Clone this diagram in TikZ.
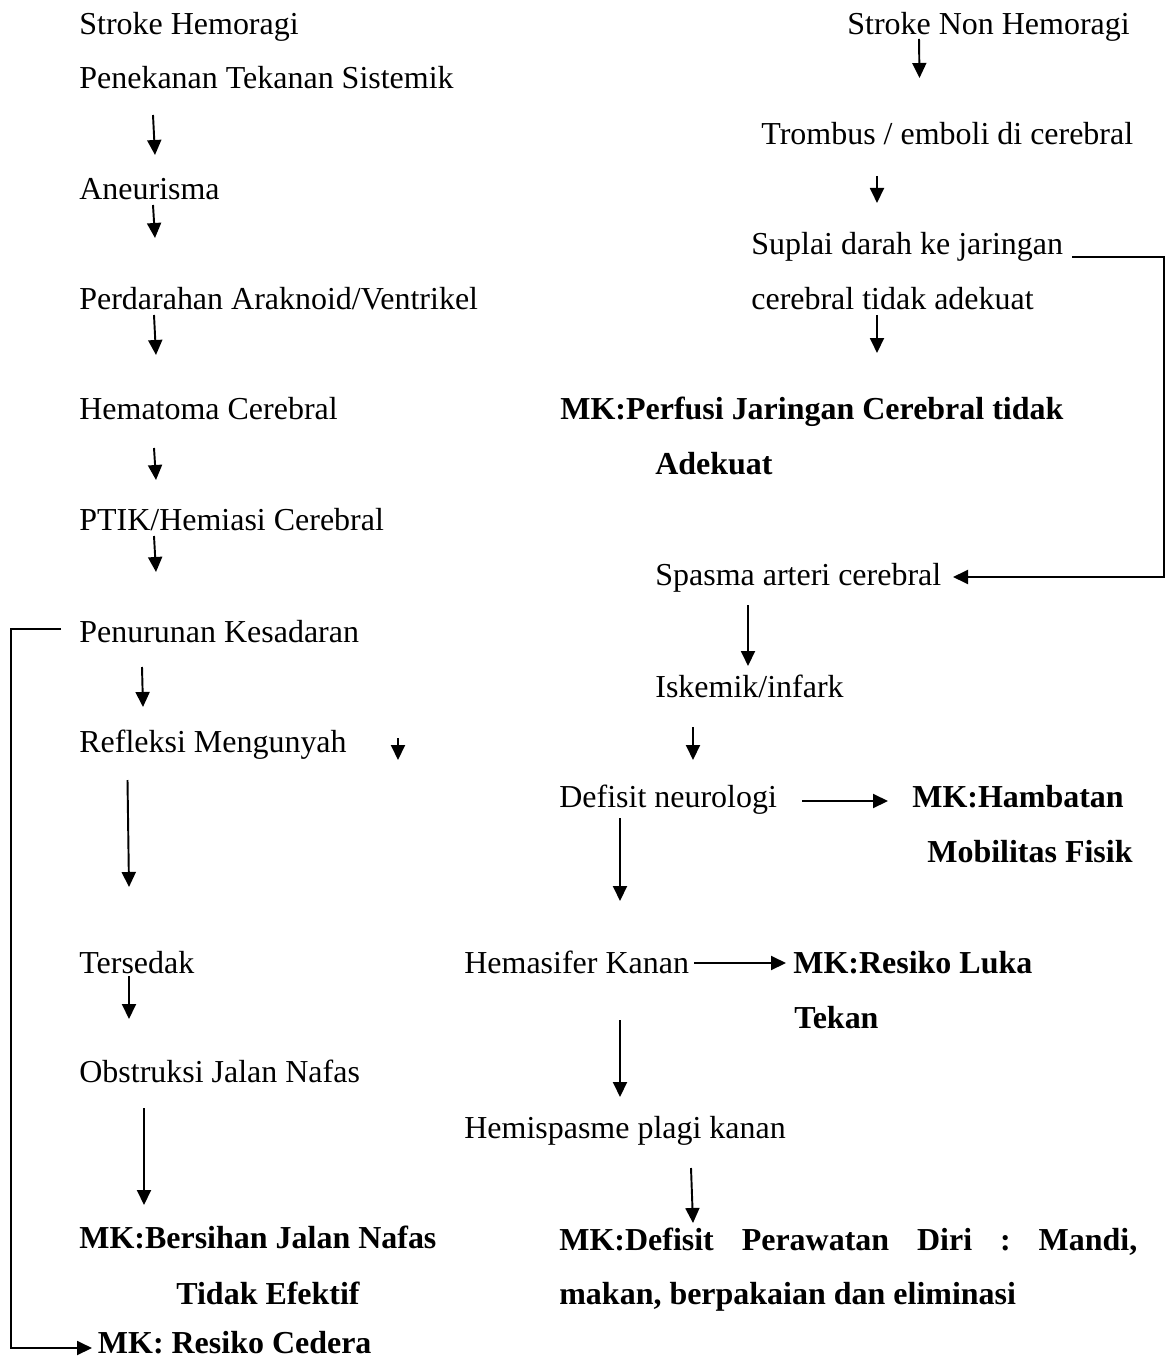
\documentclass[tikz,border=0pt]{standalone}
\usepackage{fontspec}
\setmainfont{Liberation Serif}
\usetikzlibrary{arrows.meta}
\frenchspacing

\tikzset{
  txt/.style={anchor=base west, inner sep=0pt},
  mk/.style={txt, font=\fontsize{18.2}{22}\selectfont\bfseries},
  arr/.style={-{Triangle[length=0.3cm, width=0.28cm]}, line width=1.1pt},
  link/.style={line width=1.1pt}
}

\begin{document}
\begin{tikzpicture}[x=0.02cm, y=-0.02cm, font=\fontsize{18.2}{22}\selectfont]
  \useasboundingbox (0,0) rectangle (1166,1364);

  % left branch
  \node[txt] (sh) at (79,35) {Stroke Hemoragi};
  \node[txt] (tekanan) at (79,89) {Penekanan Tekanan Sistemik};
  \node[txt] (aneu) at (79,200) {Aneurisma};
  \node[txt] (perd) at (79,310) {Perdarahan Araknoid/Ventrikel};
  \node[txt] (hemat) at (79,420) {Hematoma Cerebral};
  \node[txt] (ptik) at (79,530) {PTIK/Hemiasi Cerebral};
  \node[txt] (turun) at (79,642) {Penurunan Kesadaran};
  \node[txt] (refleksi) at (79,752) {Refleksi Mengunyah};
  \node[txt] (sedak) at (79,973) {Tersedak};
  \node[txt] (obstruksi) at (79,1082) {Obstruksi Jalan Nafas};
  \node[mk] (bersihan) at (79,1248) {MK:Bersihan Jalan Nafas};
  \node[mk] (bersihan2) at (176,1304) {Tidak Efektif};
  \node[mk] (cedera) at (97.6,1353) {MK: Resiko Cedera};

  % right branch
  \node[txt] (snh) at (847,35) {Stroke Non Hemoragi};
  \node[txt] (trombus) at (761,145) {Trombus / emboli di cerebral};
  \node[txt] (suplai) at (751,255) {Suplai darah ke jaringan};
  \node[txt] (suplai2) at (751,310) {cerebral tidak adekuat};
  \node[mk] (perfusi) at (560,420) {MK:Perfusi Jaringan Cerebral tidak};
  \node[mk] (perfusi2) at (655,475) {Adekuat};
  \node[txt] (spasma) at (655,585) {Spasma arteri cerebral};
  \node[txt] (iskemik) at (655,697) {Iskemik/infark};
  \node[txt] (defisit) at (559,807) {Defisit neurologi};
  \node[mk] (hambatan) at (912,807) {MK:Hambatan};
  \node[mk] (hambatan2) at (927,862) {Mobilitas Fisik};
  \node[txt] (hemasifer) at (464,973) {Hemasifer Kanan};
  \node[mk] (luka) at (793,973) {MK:Resiko Luka};
  \node[mk] (luka2) at (794,1028) {Tekan};
  \node[txt] (hemispasme) at (464,1138) {Hemispasme plagi kanan};
  \node[mk] (perawatan) at (559,1250) {\makebox[11.56cm][s]{MK:Defisit Perawatan Diri : Mandi,}};
  \node[mk] (perawatan2) at (559,1304) {makan, berpakaian dan eliminasi};

  % arrows left
  \draw[arr] ([shift={(74,26)}]tekanan.base west) -- ([shift={(76,-45)}]aneu.base west);
  \draw[arr] ([shift={(74,5)}]aneu.base west) -- ([shift={(76,-72)}]perd.base west);
  \draw[arr] ([shift={(75,5)}]perd.base west) -- ([shift={(77,-65)}]hemat.base west);
  \draw[arr] ([shift={(75,28)}]hemat.base west) -- ([shift={(77,-50)}]ptik.base west);
  \draw[arr] ([shift={(75,6)}]ptik.base west) -- ([shift={(77,-70)}]turun.base west);
  \draw[arr] ([shift={(63,25)}]turun.base west) -- ([shift={(64,-45)}]refleksi.base west);
  \draw[arr] ([shift={(319,-14)}]refleksi.base west) -- ([shift={(319,8)}]refleksi.base west);
  \draw[arr] ([shift={(48.5,28)}]refleksi.base west) -- ([shift={(50,-86)}]sedak.base west);
  \draw[arr] ([shift={(50,3)}]sedak.base west) -- ([shift={(50,-63)}]obstruksi.base west);
  \draw[arr] ([shift={(65,26)}]obstruksi.base west) -- ([shift={(65,-43)}]bersihan.base west);
  \draw[arr] ([shift={(-18,-13)}]turun.base west) -- ++(-50,0) |- ([shift={(-5.6,-5)}]cedera.base west);

  % arrows right
  \draw[arr] ([shift={(72,4)}]snh.base west) -- ([shift={(158.5,-67)}]trombus.base west);
  \draw[arr] ([shift={(116,31)}]trombus.base west) -- ([shift={(126,-52)}]suplai.base west);
  \draw[arr] ([shift={(126,5)}]suplai2.base west) -- ([shift={(317,-67)}]perfusi.base west);
  \draw[arr] ([shift={(321,2)}]suplai.base west) -- ++(92,0) |- ([shift={(298,-8)}]spasma.base west);
  \draw[arr] ([shift={(93,20)}]spasma.base west) -- ([shift={(93,-31)}]iskemik.base west);
  \draw[arr] ([shift={(38,30)}]iskemik.base west) -- ([shift={(134,-47)}]defisit.base west);
  \draw[arr] ([shift={(243,-6)}]defisit.base west) -- ([shift={(-24,-6)}]hambatan.base west);
  \draw[arr] ([shift={(61,11)}]defisit.base west) -- ([shift={(156,-72)}]hemasifer.base west);
  \draw[arr] ([shift={(230,-10)}]hemasifer.base west) -- ([shift={(-7,-10)}]luka.base west);
  \draw[arr] ([shift={(156,47)}]hemasifer.base west) -- ([shift={(156,-41)}]hemispasme.base west);
  \draw[arr] ([shift={(227,30)}]hemispasme.base west) -- ([shift={(134,-27)}]perawatan.base west);
\end{tikzpicture}
\end{document}
